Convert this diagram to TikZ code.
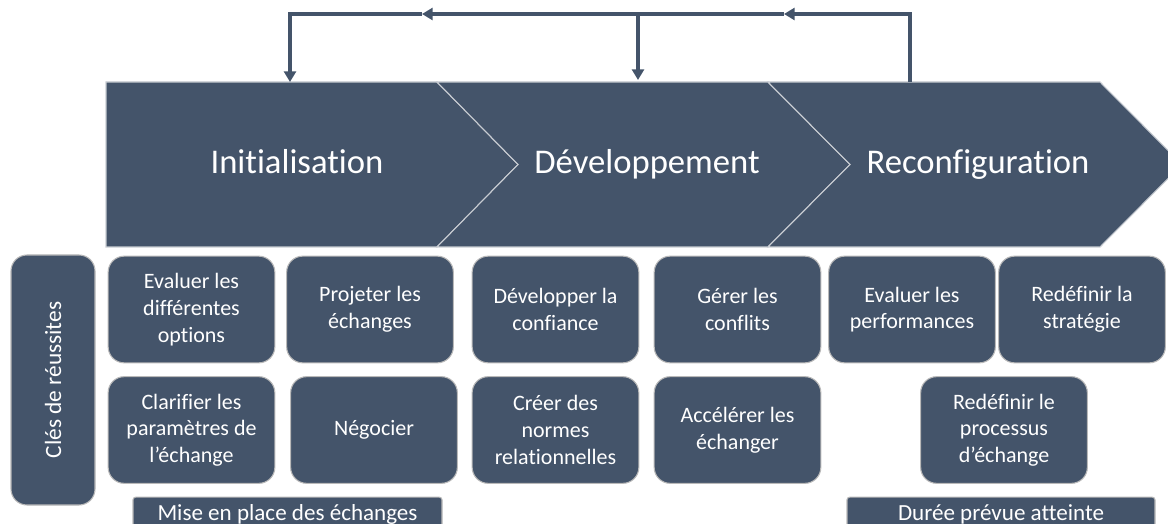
\documentclass[tikz,border=0pt]{standalone}
\usepackage{fontspec}
\setmainfont{Carlito}[Ligatures=NoCommon]
\usetikzlibrary{arrows.meta}
\definecolor{slate}{HTML}{44546A}
\definecolor{edge}{HTML}{C8CCD2}
\tikzset{
  chev/.style={fill=slate, draw=edge, line width=0.8pt},
  title/.style={text=white, font=\fontsize{26}{31}\selectfont, inner sep=0pt, anchor=base},
  box/.style={fill=slate, draw=gray!55, line width=0.8pt, rounded corners=12pt,
    text=white, align=center, font=\fontsize{16.5}{20}\selectfont,
    minimum width=125pt, minimum height=80pt, inner sep=0pt},
  band/.style={fill=slate, draw=gray!55, line width=0.8pt, rounded corners=2pt,
    text=white, align=center, font=\fontsize{17.3}{20}\selectfont,
    minimum height=26pt, inner sep=0pt},
  fb/.style={draw=slate, line width=2.3pt},
  fba/.style={fb, -{Triangle[length=8pt,width=9pt]}},
}
\begin{document}
\begin{tikzpicture}[x=0.75pt, y=-0.75pt]
\useasboundingbox (0,0) rectangle (1168,524);
\clip (0,0) rectangle (1168,524);
% chevrons
\draw[chev] (106,82) -- (437,82) -- (518,164.5) -- (437,247) -- (106,247) -- cycle;
\draw[chev] (437,82) -- (768,82) -- (850,164.5) -- (768,247) -- (437,247) -- (518,164.5) -- cycle;
\draw[chev] (768,82) -- (1100,82) -- (1182,164.5) -- (1100,247) -- (768,247) -- (850,164.5) -- cycle;
\node[title] (init) at (297,174) {Initialisation};
\node[title] (dev) at (647,174) {Développement};
\node[title] (reco) at (978,174) {Reconfiguration};
% feedback connectors
\coordinate (s3) at (910,82);
\coordinate (t1) at (290,82);
\coordinate (t2) at (638,80);
\coordinate (top3) at (910,14);
\coordinate (top1) at (290,14);
\coordinate (topm) at (638,14);
\coordinate (ma) at (784,14);
\coordinate (mb) at (422,14);
\draw[fba] (s3) -- (top3) -- (ma);
\draw[fba] (ma) -- (mb);
\draw[fba] (mb) -- (top1) -- (t1);
\draw[fba] (topm) -- (t2);
% keys
\node[box, minimum width=63pt, minimum height=187.5pt] (cles) at (53,380) {};
\node[text=white, rotate=90, font=\fontsize{17.5}{20}\selectfont] (clest) at (53,380) {Clés de réussites};
% boxes
\node[box] (e1) at (191.5,309.5) {Evaluer les\\différentes\\options};
\node[box] (p1) at (370,309.5) {Projeter les\\échanges};
\node[box] (c1) at (191.5,430) {Clarifier les\\paramètres de\\l’échange};
\node[box] (n1) at (374,430) {Négocier};
\node[box] (d1) at (555.5,309.5) {Développer la\\confiance};
\node[box] (g1) at (737.5,309.5) {Gérer les\\conflits};
\node[box] (cr) at (555.5,430) {Créer des\\normes\\relationnelles};
\node[box] (a1) at (737.5,430) {Accélérer les\\échanger};
\node[box] (ep) at (912,309.5) {Evaluer les\\performances};
\node[box] (rs) at (1082,309.5) {Redéfinir la\\stratégie};
\node[box] (rp) at (1004,430) {Redéfinir le\\processus\\d’échange};
% bottom bands
\node[band, minimum width=231.75pt] (mise) at (287.5,514.5) {Mise en place des échanges};
\node[band, minimum width=231pt] (duree) at (1001,514.5) {Durée prévue atteinte};
\end{tikzpicture}
\end{document}
